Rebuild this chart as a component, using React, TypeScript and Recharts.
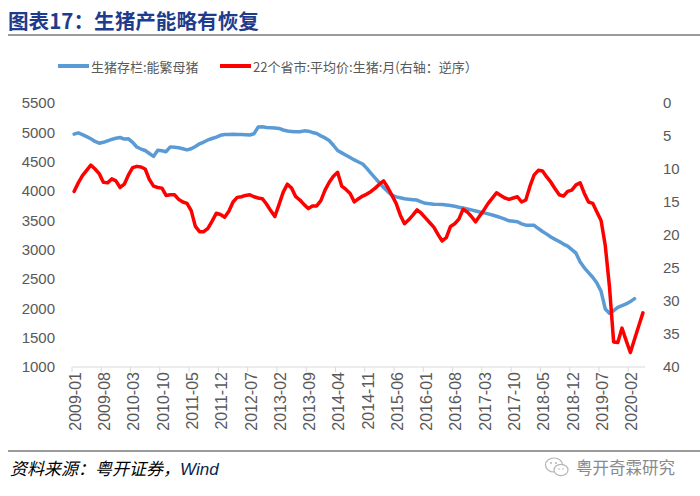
import * as React from 'react';
import { LineChart, Line, XAxis, YAxis, Legend } from 'recharts';

// months 2009-01 .. 2020-05
const firstYear = 2009;
const monthCount = 137;
const months: string[] = Array.from({ length: monthCount }, (_, i) => {
  const y = firstYear + Math.floor(i / 12);
  const m = (i % 12) + 1;
  return `${y}-${m < 10 ? '0' + m : m}`;
});

// 生猪存栏:能繁母猪 (万头), 2009-01 .. 2020-03
const sowStock = [
  4970, 4990, 4960, 4926, 4890, 4845, 4815, 4830, 4855, 4880,
  4900, 4912, 4885, 4890, 4830, 4750, 4715, 4690, 4640, 4590,
  4695, 4685, 4670, 4752, 4745, 4738, 4720, 4700, 4720, 4760,
  4805, 4835, 4870, 4895, 4920, 4950, 4962, 4964, 4966, 4965,
  4962, 4958, 4955, 4975, 5090, 5094, 5082, 5078, 5073, 5066,
  5040, 5022, 5015, 5008, 5010, 5025, 5020, 4998, 4980, 4940,
  4905, 4860, 4780, 4690, 4650, 4610, 4570, 4530, 4495, 4460,
  4385, 4300, 4220, 4140, 4060, 3990, 3930, 3900, 3885, 3868,
  3860, 3852, 3845, 3815, 3790, 3784, 3776, 3772, 3768, 3760,
  3752, 3740, 3724, 3710, 3695, 3678, 3660, 3642, 3628, 3610,
  3590, 3570, 3545, 3520, 3492, 3485, 3476, 3440, 3418, 3416,
  3415, 3360, 3310, 3265, 3215, 3175, 3140, 3095, 3060, 3000,
  2940, 2790, 2690, 2610, 2530, 2430, 2290, 1990, 1915, 1960,
  2015, 2045, 2075, 2115, 2165,
];

// 22个省市:平均价:生猪 (元/公斤), 2009-01 .. 2020-05
const hogPrice = [
  13.4, 12.1, 11.0, 10.2, 9.4, 10.0, 10.7, 12.0, 12.1, 11.5,
  11.8, 12.8, 12.3, 10.9, 9.8, 9.6, 9.7, 10.0, 11.6, 12.6,
  12.8, 12.9, 14.0, 13.9, 13.9, 14.6, 15.0, 15.2, 16.3, 18.7,
  19.5, 19.5, 19.0, 17.9, 16.7, 16.9, 17.3, 16.4, 15.0, 14.3,
  14.2, 14.0, 13.9, 14.2, 14.4, 14.5, 15.3, 16.3, 17.2, 15.4,
  13.5, 12.3, 12.9, 14.2, 14.7, 15.4, 16.0, 15.6, 15.6, 14.8,
  13.2, 12.0, 11.1, 10.5, 12.6, 13.1, 13.7, 15.0, 14.5, 14.1,
  13.8, 13.4, 12.9, 12.3, 11.8, 12.8, 14.0, 15.2, 17.0, 18.3,
  17.7, 17.0, 16.2, 16.7, 17.4, 18.1, 18.8, 19.9, 20.9, 20.4,
  18.7, 18.3, 17.6, 16.1, 16.5, 17.2, 18.0, 17.1, 16.2, 15.2,
  14.4, 13.6, 14.0, 14.4, 14.6, 14.4, 14.2, 15.0, 14.7, 12.6,
  10.9, 10.2, 10.3, 11.2, 12.0, 13.0, 13.9, 14.1, 13.4, 13.2,
  12.4, 12.1, 13.7, 15.0, 15.2, 16.5, 17.8, 21.6, 27.8, 36.2,
  36.3, 34.1, 36.0, 37.8, 35.8, 33.8, 31.8,
];

const leftTicks = [1000, 1500, 2000, 2500, 3000, 3500, 4000, 4500, 5000, 5500];
const rightTicks = [0, 5, 10, 15, 20, 25, 30, 35, 40];

const sowName = '生猪存栏:能繁母猪';
const priceName = '22个省市:平均价:生猪:月(右轴：逆序）';
const legendOrder = ['sow', 'price'];

const data = months.map((month, i) => ({
  month,
  sow: sowStock[i],
  price: hogPrice[i],
}));

const FONT = '"Liberation Sans", Arial, "Noto Sans CJK SC", sans-serif';
const CJK = '"Noto Sans CJK SC", "Liberation Sans", sans-serif';
const PLOT_W = 573;
const BAND = PLOT_W / monthCount;

const MonthTick = (props: any) => {
  const { x, y, payload } = props;
  const bx = x - BAND / 2;
  const ty = y + 5;
  return (
    <g>
      <line x1={bx} y1={y} x2={bx} y2={y + 5} stroke="#d9d9d9" strokeWidth={1} />
      <text
        x={x + 1}
        y={ty}
        transform={`rotate(-90 ${x + 1} ${ty})`}
        textAnchor="end"
        dy="0.36em"
        fill="#595959"
        fontSize={16}
        fontFamily={FONT}
      >
        {payload.value}
      </text>
    </g>
  );
};

const legendLefts = [58, 220];

const renderLegend = (props: any) => {
  const items = [...(props.payload || [])].sort(
    (a: any, b: any) => legendOrder.indexOf(a.dataKey) - legendOrder.indexOf(b.dataKey)
  );
  return (
    <div style={{ position: 'relative', width: 700, height: 20 }}>
      {items.map((entry: any, idx: number) => (
        <div
          key={entry.dataKey}
          style={{
            position: 'absolute',
            left: legendLefts[idx],
            top: 0,
            display: 'flex',
            alignItems: 'center',
            height: 20,
            whiteSpace: 'nowrap',
          }}
        >
          <span
            style={{
              display: 'inline-block',
              width: 31,
              height: 4,
              background: entry.color,
              marginRight: 2,
            }}
          />
          <span style={{ fontSize: 13, color: '#595959', fontFamily: CJK }}>{entry.value}</span>
        </div>
      ))}
    </div>
  );
};

const WeChatIcon = () => (
  <svg width={26} height={22} viewBox="0 0 26 22">
    <ellipse cx={10} cy={9} rx={8.5} ry={7} fill="none" stroke="#b5b5b5" strokeWidth={1.2} />
    <ellipse cx={17} cy={14} rx={7} ry={5.6} fill="#fff" stroke="#b5b5b5" strokeWidth={1.2} />
    <circle cx={7} cy={7} r={1} fill="#b5b5b5" />
    <circle cx={12} cy={7} r={1} fill="#b5b5b5" />
    <circle cx={15} cy={13} r={0.8} fill="#b5b5b5" />
    <circle cx={19} cy={13} r={0.8} fill="#b5b5b5" />
  </svg>
);

export default function App() {
  return (
    <div
      style={{
        position: 'absolute',
        left: 0,
        top: 0,
        width: 700,
        height: 496,
        background: '#fff',
        overflow: 'hidden',
      }}
    >
      <div
        style={{
          position: 'absolute',
          left: 8,
          top: 5,
          fontFamily: CJK,
          fontWeight: 700,
          fontSize: 20.6,
          color: '#1F3C8C',
          whiteSpace: 'nowrap',
        }}
      >
        图表17：生猪产能略有恢复
      </div>
      <div style={{ position: 'absolute', left: 8, top: 34, width: 692, height: 2, background: '#9a9a9a' }} />

      <div style={{ position: 'absolute', left: 0, top: 0 }}>
        <LineChart width={700} height={450} data={data} margin={{ top: 103, right: 0, bottom: 8, left: 0 }}>
          <XAxis
            dataKey="month"
            interval={6}
            padding={{ left: BAND / 2, right: BAND / 2 }}
            axisLine={{ stroke: '#d9d9d9', strokeWidth: 1 }}
            tickLine={false}
            tickSize={0}
            tickMargin={0}
            height={75}
            tick={<MonthTick />}
          />
          <YAxis
            yAxisId="left"
            width={72}
            domain={[1000, 5500]}
            ticks={leftTicks}
            interval={0}
            axisLine={false}
            tickLine={false}
            tickMargin={11}
            tick={{ fill: '#595959', fontSize: 15, fontFamily: FONT }}
          />
          <YAxis
            yAxisId="right"
            orientation="right"
            width={55}
            reversed
            domain={[0, 40]}
            ticks={rightTicks}
            interval={0}
            axisLine={false}
            tickLine={false}
            tickMargin={12}
            tick={{ fill: '#595959', fontSize: 15, fontFamily: FONT, textAnchor: 'start' }}
          />
          <Legend
            verticalAlign="middle"
            align="center"
            layout="horizontal"
            wrapperStyle={{ top: 56, left: 0, width: 700 }}
            content={renderLegend}
          />
          <Line
            yAxisId="left"
            name={sowName}
            dataKey="sow"
            type="linear"
            stroke="#5B9BD5"
            strokeWidth={3.5}
            strokeLinejoin="round"
            strokeLinecap="round"
            dot={false}
            activeDot={false}
            isAnimationActive={false}
          />
          <Line
            yAxisId="right"
            name={priceName}
            dataKey="price"
            type="linear"
            stroke="#FF0000"
            strokeWidth={3.5}
            strokeLinejoin="round"
            strokeLinecap="round"
            dot={false}
            activeDot={false}
            isAnimationActive={false}
          />
        </LineChart>
      </div>

      <div style={{ position: 'absolute', left: 8, top: 450, width: 692, height: 2, background: '#9a9a9a' }} />
      <div
        style={{
          position: 'absolute',
          left: 10,
          top: 455,
          fontFamily: CJK,
          fontStyle: 'italic',
          fontSize: 17,
          color: '#000',
          whiteSpace: 'nowrap',
        }}
      >
        资料来源：粤开证券，<span style={{ fontFamily: FONT, color: '#0b1f4a' }}>Wind</span>
      </div>
      <div
        style={{
          position: 'absolute',
          left: 544,
          top: 455,
          display: 'flex',
          alignItems: 'center',
          whiteSpace: 'nowrap',
        }}
      >
        <WeChatIcon />
        <span style={{ fontFamily: CJK, fontSize: 16.5, color: '#8a8a8a', marginLeft: 6 }}>粤开奇霖研究</span>
      </div>
    </div>
  );
}
